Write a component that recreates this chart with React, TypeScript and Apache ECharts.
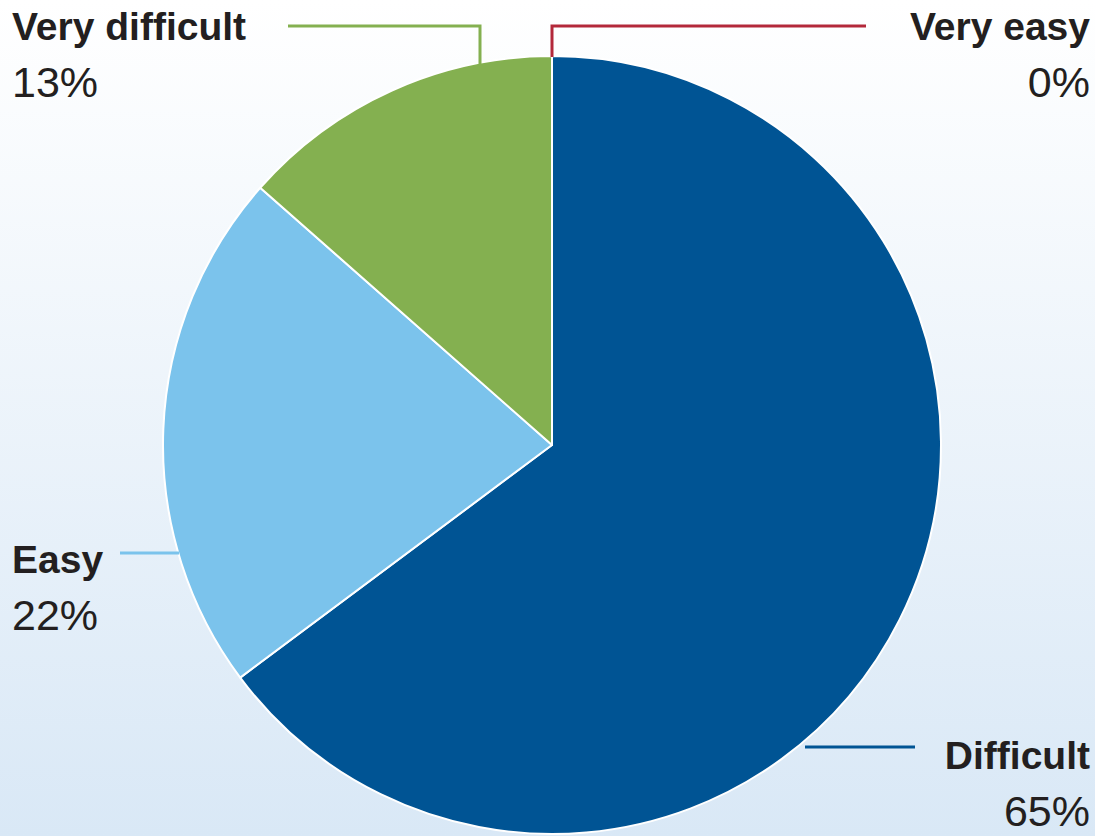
import React, { useEffect, useRef } from "react";
import * as echarts from "echarts";

const categories = ["Very easy", "Difficult", "Easy", "Very difficult"];
const values = [0, 64.8, 21.7, 13.5];
const percentLabels = ["0%", "65%", "22%", "13%"];
const colors = ["#b3283a", "#005494", "#7bc3ec", "#84b050"];

const FONT = "'Liberation Sans', Arial, sans-serif";

export default function App() {
  const ref = useRef<HTMLDivElement>(null);
  useEffect(() => {
    if (!ref.current) return;
    const chart = echarts.init(ref.current, null, { renderer: "svg" });
    const label = (i: number, x: number, y1: number, y2: number, align: string) => [
      {
        type: "text",
        x,
        y: y1,
        style: {
          text: categories[i],
          fill: "#231f20",
          font: `bold 39px ${FONT}`,
          align,
          verticalAlign: "middle",
        },
      },
      {
        type: "text",
        x,
        y: y2,
        style: {
          text: percentLabels[i],
          fill: "#231f20",
          font: `normal 43px ${FONT}`,
          align,
          verticalAlign: "middle",
        },
      },
    ];
    const line = (pts: number[][], color: string) => ({
      type: "polyline",
      shape: { points: pts },
      style: { stroke: color, lineWidth: 3, fill: "none" },
      z: 10,
    });
    chart.setOption({
      animation: false,
      backgroundColor: {
        type: "linear",
        x: 0,
        y: 0,
        x2: 0,
        y2: 1,
        colorStops: [
          { offset: 0, color: "#ffffff" },
          { offset: 1, color: "#d9e8f6" },
        ],
      },
      series: [
        {
          type: "pie",
          center: [552, 445],
          radius: [0, 389],
          startAngle: 90,
          clockwise: true,
          label: { show: false },
          labelLine: { show: false },
          itemStyle: { borderColor: "#ffffff", borderWidth: 2 },
          emphasis: { disabled: true },
          data: categories.map((c, i) => ({
            name: c,
            value: values[i],
            itemStyle: { color: colors[i] },
          })),
        },
      ],
      graphic: [
        line([[552, 57], [552, 26], [866, 26]], colors[0]),
        line([[480, 64], [480, 26], [288, 26]], colors[3]),
        line([[120, 553], [179, 553]], colors[2]),
        line([[805, 747], [915, 747]], colors[1]),
        ...label(0, 1090, 26, 82, "right"),
        ...label(3, 12, 26, 82, "left"),
        ...label(2, 12, 559, 615, "left"),
        ...label(1, 1090, 755, 811, "right"),
      ],
    });
    return () => chart.dispose();
  }, []);
  return (
    <div
      ref={ref}
      style={{ position: "fixed", left: 0, top: 0, width: 1095, height: 836 }}
    />
  );
}
